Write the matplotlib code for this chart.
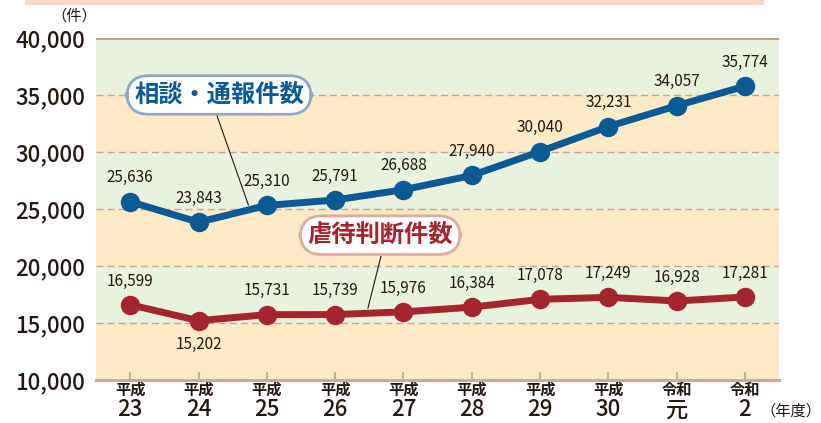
import numpy as np
import matplotlib.pyplot as plt
from matplotlib.patches import Rectangle

plt.rcParams['font.family'] = ['Noto Sans CJK JP', 'DejaVu Sans']

# ---------------------------------------------------------------------------
# Data
# ---------------------------------------------------------------------------
era_labels = ["平成", "平成", "平成", "平成", "平成", "平成", "平成", "平成", "令和", "令和"]
year_labels = ["23", "24", "25", "26", "27", "28", "29", "30", "元", "2"]
consult = [25636, 23843, 25310, 25791, 26688, 27940, 30040, 32231, 34057, 35774]
abuse = [16599, 15202, 15731, 15739, 15976, 16384, 17078, 17249, 16928, 17281]

BLUE = "#0b5a95"
RED = "#a3262f"
GREEN_BAND = "#e8f2dc"
YELLOW_BAND = "#fdebc7"
GRID = "#c9a393"
TEXT = "#231815"

fig = plt.figure(figsize=(8.21, 4.23), dpi=100)
ax = fig.add_axes([0.117, 0.1017, 0.832, 0.8085])

x = np.arange(len(consult))
ax.set_xlim(-0.5, len(consult) - 0.5)
ax.set_ylim(10000, 40000)

# alternating bands
for i, lo in enumerate(range(10000, 40000, 5000)):
    color = YELLOW_BAND if i % 2 == 0 else GREEN_BAND
    ax.axhspan(lo, lo + 5000, color=color, zorder=0, lw=0)
for yv in range(15000, 40000, 5000):
    ax.axhline(yv, color=GRID, lw=1.0, ls=(0, (5, 3)), zorder=1)
ax.axhline(40000, color="#c0a08e", lw=2.2, zorder=2)

for s in ["top", "right", "left"]:
    ax.spines[s].set_visible(False)
ax.spines["bottom"].set_color("#c9ad9c")
ax.spines["bottom"].set_linewidth(2.2)

# lines
ax.plot(x, consult, color=BLUE, lw=5, marker="o", ms=13, zorder=4,
        solid_capstyle="round")
ax.plot(x, abuse, color=RED, lw=5, marker="o", ms=13, zorder=4,
        solid_capstyle="round")

# value labels
for xi, v in zip(x, consult):
    ax.annotate(f"{v:,}", (xi, v), xytext=(0, 11), textcoords="offset points",
                ha="center", va="bottom", fontsize=11, color=TEXT)
for xi, v in zip(x, abuse):
    off = -11 if xi == 1 else 11
    ax.annotate(f"{v:,}", (xi, v), xytext=(0, off), textcoords="offset points",
                ha="center", va="top" if off < 0 else "bottom",
                fontsize=11, color=TEXT)

# ticks
ax.set_yticks(range(10000, 40001, 5000))
ax.set_yticklabels([f"{v:,}" for v in range(10000, 40001, 5000)],
                   fontsize=16, fontweight="medium", color=TEXT)
ax.tick_params(axis="y", length=0, pad=8)
ax.set_xticks(x)
ax.set_xticklabels([])
ax.tick_params(axis="x", length=6, width=1.5, color="#c9ad9c", direction="in")
for xi, era, yr in zip(x, era_labels, year_labels):
    ax.text(xi, -0.044, era, transform=ax.get_xaxis_transform(),
            ha="center", va="baseline", fontsize=11, fontweight="bold",
            color=TEXT)
    ax.text(xi, -0.106, yr, transform=ax.get_xaxis_transform(),
            ha="center", va="baseline", fontsize=16, fontweight="medium",
            color=TEXT)

fig.text(0.09, 0.962, "（件）", ha="center", va="center", fontsize=11, color=TEXT)
ax.text(9.22, -0.104, "（年度）", transform=ax.get_xaxis_transform(),
        ha="left", va="baseline", fontsize=11, color=TEXT)

# series call-outs with leader lines
ax.plot([1.24, 1.73], [33700, 25350], color=TEXT, lw=0.8, zorder=3)
ax.text(1.30, 35000, "相談・通報件数", ha="center", va="center", fontsize=17.5,
        fontweight="bold", color=BLUE, zorder=5,
        bbox=dict(boxstyle="round,pad=0.3,rounding_size=0.9", fc="white",
                  ec="#8fa7cf", lw=2))
ax.plot([3.69, 3.48], [21300, 16300], color=TEXT, lw=0.8, zorder=3)
ax.text(3.66, 22700, "虐待判断件数", ha="center", va="center", fontsize=17.5,
        fontweight="bold", color=RED, zorder=5,
        bbox=dict(boxstyle="round,pad=0.3,rounding_size=0.9", fc="white",
                  ec="#e0aaa0", lw=2))

# pink decoration strip at top
fig.patches.append(Rectangle((0.03, 0.987), 0.9, 0.013, transform=fig.transFigure,
                             fc="#fad3c9", ec="none"))

fig.savefig("out.png", dpi=100)
